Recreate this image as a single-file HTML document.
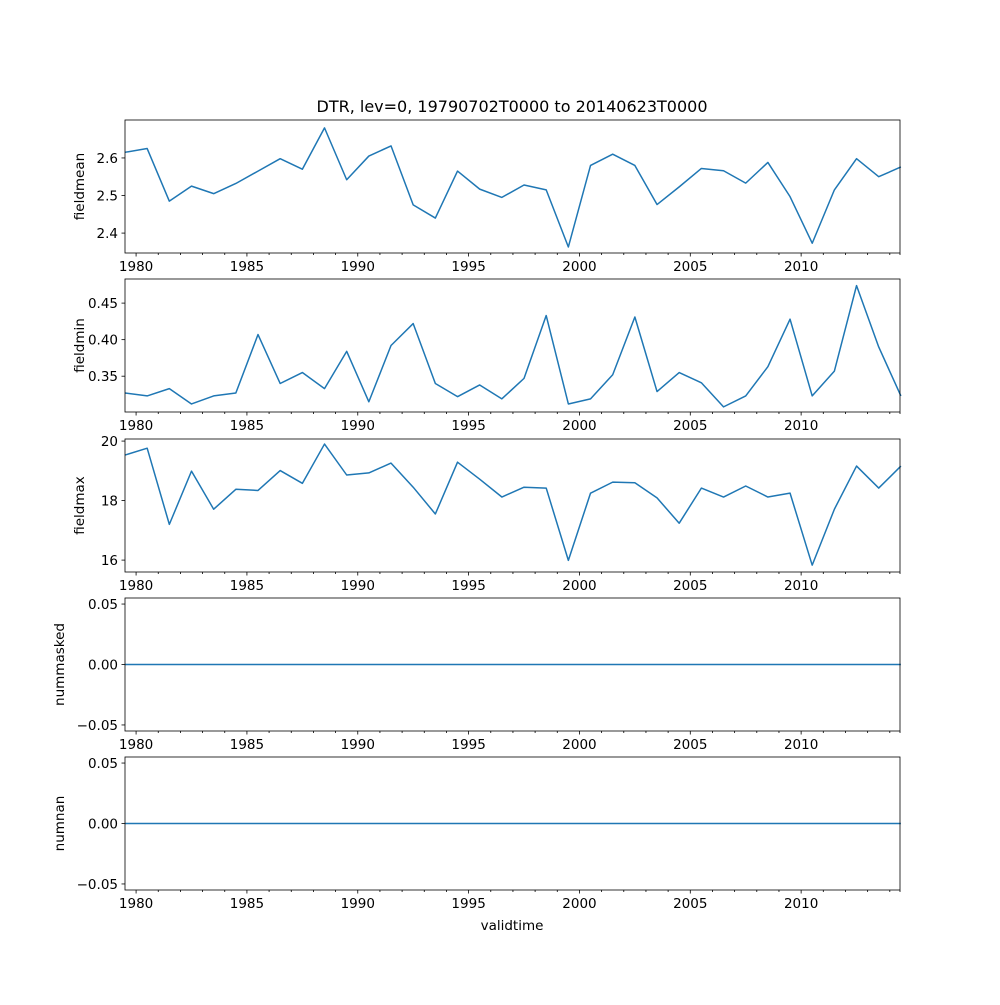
<!DOCTYPE html>
<html><head><meta charset="utf-8"><style>
body{margin:0;background:#fff}
svg text{font-family:"DejaVu Sans","Liberation Sans",sans-serif;font-size:13.5px;fill:#000}
</style></head><body>
<svg id="fig" width="1000" height="1000" xmlns="http://www.w3.org/2000/svg">
<rect width="1000" height="1000" fill="#fff"/>
<text x="512" y="112" text-anchor="middle" style="font-size:16px">DTR, lev=0, 19790702T0000 to 20140623T0000</text>
<text x="512" y="930" text-anchor="middle">validtime</text>
</svg>
<script>
const years = [1979,1980,1981,1982,1983,1984,1985,1986,1987,1988,1989,1990,1991,1992,1993,1994,1995,1996,1997,1998,1999,2000,2001,2002,2003,2004,2005,2006,2007,2008,2009,2010,2011,2012,2013,2014];
const fieldmean = [2.615,2.625,2.485,2.525,2.505,2.532,2.565,2.598,2.57,2.68,2.542,2.605,2.632,2.475,2.44,2.565,2.517,2.495,2.528,2.515,2.363,2.58,2.61,2.58,2.476,2.523,2.572,2.566,2.533,2.588,2.497,2.373,2.515,2.598,2.55,2.576];
const fieldmin = [0.327,0.323,0.333,0.312,0.323,0.327,0.407,0.340,0.355,0.333,0.384,0.315,0.392,0.422,0.340,0.322,0.338,0.319,0.347,0.433,0.312,0.319,0.352,0.431,0.329,0.355,0.341,0.308,0.323,0.363,0.428,0.323,0.357,0.474,0.390,0.323];
const fieldmax = [19.53,19.76,17.2,18.99,17.71,18.38,18.34,19.01,18.58,19.9,18.86,18.93,19.26,18.45,17.55,19.29,18.72,18.12,18.45,18.42,15.99,18.25,18.62,18.6,18.09,17.24,18.42,18.12,18.49,18.12,18.25,15.83,17.71,19.16,18.42,19.16];
const nummasked = years.map(()=>0);
const numnan = years.map(()=>0);
const xTickYears = [1980,1985,1990,1995,2000,2005,2010];
const panels = [
 {name:'fieldmean',data:fieldmean,top:120,bot:253,ymin:2.347,ymax:2.701,ticks:[2.4,2.5,2.6],fmt:v=>v.toFixed(1)},
 {name:'fieldmin',data:fieldmin,top:279,bot:412,ymin:0.301,ymax:0.483,ticks:[0.35,0.40,0.45],fmt:v=>v.toFixed(2)},
 {name:'fieldmax',data:fieldmax,top:439,bot:572,ymin:15.6,ymax:20.07,ticks:[16,18,20],fmt:v=>String(v)},
 {name:'nummasked',data:nummasked,top:598,bot:731,ymin:-0.055,ymax:0.055,ticks:[-0.05,0,0.05],fmt:v=>(v<0?'\u22120.05':v.toFixed(2))},
 {name:'numnan',data:numnan,top:757,bot:890,ymin:-0.055,ymax:0.055,ticks:[-0.05,0,0.05],fmt:v=>(v<0?'\u22120.05':v.toFixed(2))}
];
const L=125,R=900,X0=1979.5,X1=2014.46;
const xs=t=>L+(t-X0)/(X1-X0)*(R-L);
const svg=document.getElementById('fig');
const NS='http://www.w3.org/2000/svg';
function mk(tag,attrs,parent){const e=document.createElementNS(NS,tag);for(const k in attrs)e.setAttribute(k,attrs[k]);(parent||svg).appendChild(e);return e;}
panels.forEach(p=>{
 const g=mk('g',{});
 
 
 const ys=v=>p.bot-(v-p.ymin)/(p.ymax-p.ymin)*(p.bot-p.top);
 const pts=years.map((y,i)=>xs(y+0.5).toFixed(2)+','+ys(p.data[i]).toFixed(2)).join(' ');
 const line=mk('polyline',{points:pts,fill:'none',stroke:'#1f77b4','stroke-width':1.5,'stroke-linejoin':'round'},g);
 
 
 const frame=mk('rect',{x:L,y:p.top,width:R-L,height:p.bot-p.top,fill:'none',stroke:'#000','stroke-width':0.8},g);
 
 
 for(let yr=1980;yr<=2014;yr++){
  const x=xs(yr);const major=xTickYears.includes(yr);
  mk('line',{x1:x,x2:x,y1:p.bot,y2:p.bot+(major?3.5:2),stroke:'#000','stroke-width':0.8},g);
 }
 mk('line',{x1:R,x2:R,y1:p.bot,y2:p.bot+2,stroke:'#000','stroke-width':0.8},g);
 xTickYears.forEach(yr=>{
  const t=mk('text',{x:xs(yr),y:p.bot+18,'text-anchor':'middle'},g);t.textContent=yr;
  
  
 });
 p.ticks.forEach(v=>{
  const y=ys(v);
  mk('line',{x1:L-3.5,x2:L,y1:y,y2:y,stroke:'#000','stroke-width':0.8},g);
  const t=mk('text',{x:L-7,y:y+5,'text-anchor':'end'},g);t.textContent=p.fmt(v);
  
  
 });
 const cy=(p.top+p.bot)/2;
 const lx=p.name.startsWith('num')?64:84;
 const yl=mk('text',{x:lx,y:cy,'text-anchor':'middle',transform:`rotate(-90 ${lx} ${cy})`},g);
 yl.textContent=p.name;
 
 
});
</script>
</body></html>
